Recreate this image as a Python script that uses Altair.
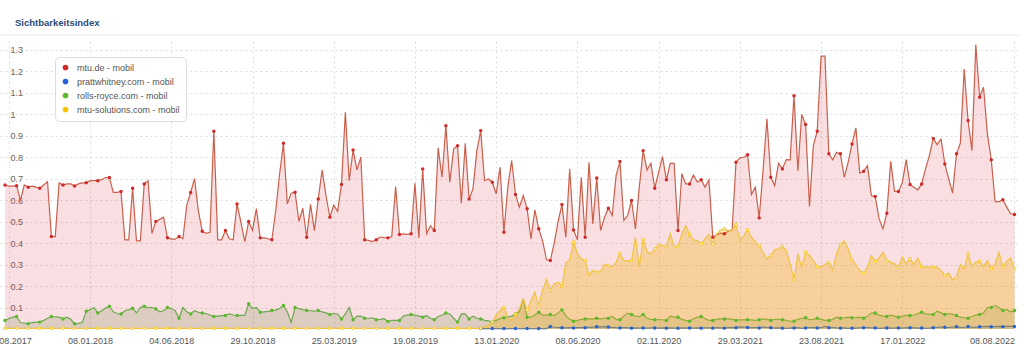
import altair as alt
import pandas as pd

# ---------------- data (weekly, 07.08.2017 .. 08.08.2022) ----------------
start_date = "2017-08-07"
n_weeks = 262

series_names = ["mtu.de - mobil", "prattwhitney.com - mobil",
                "rolls-royce.com - mobil", "mtu-solutions.com - mobil"]

mtu_de = [
    0.67, 0.665, 0.665, 0.667, 0.60, 0.67, 0.66, 0.665, 0.66, 0.655,
    0.67, 0.685, 0.43, 0.43, 0.68, 0.67, 0.675, 0.675, 0.665, 0.675,
    0.68, 0.68, 0.69, 0.69, 0.69, 0.695, 0.705, 0.705, 0.636, 0.636,
    0.64, 0.415, 0.415, 0.655, 0.41, 0.41, 0.675, 0.69, 0.445, 0.50,
    0.51, 0.52, 0.425, 0.418, 0.418, 0.43, 0.42, 0.575, 0.635, 0.70,
    0.55, 0.455, 0.445, 0.45, 0.92, 0.415, 0.415, 0.458, 0.42, 0.415,
    0.582, 0.497, 0.407, 0.50, 0.46, 0.56, 0.424, 0.424, 0.42, 0.415,
    0.55, 0.72, 0.864, 0.582, 0.632, 0.636, 0.50, 0.562, 0.427, 0.58,
    0.458, 0.605, 0.74, 0.62, 0.52, 0.577, 0.548, 0.672, 1.008, 0.69,
    0.833, 0.74, 0.80, 0.415, 0.412, 0.407, 0.415, 0.428, 0.425, 0.424,
    0.43, 0.663, 0.44, 0.443, 0.44, 0.443, 0.678, 0.424, 0.745, 0.443,
    0.48, 0.458, 0.843, 0.706, 0.946, 0.683, 0.838, 0.853, 0.585, 0.864,
    0.605, 0.652, 0.83, 0.923, 0.69, 0.698, 0.683, 0.629, 0.753, 0.45,
    0.66, 0.784, 0.626, 0.567, 0.621, 0.559, 0.419, 0.554, 0.466, 0.41,
    0.322, 0.319, 0.40, 0.50, 0.579, 0.427, 0.745, 0.461, 0.415, 0.706,
    0.427, 0.776, 0.489, 0.703, 0.458, 0.52, 0.562, 0.528, 0.714, 0.78,
    0.505, 0.528, 0.598, 0.466, 0.66, 0.83, 0.74, 0.771, 0.655, 0.73,
    0.802, 0.694, 0.771, 0.771, 0.458, 0.722, 0.675, 0.675, 0.717, 0.683,
    0.694, 0.66, 0.694, 0.427, 0.438, 0.446, 0.443, 0.455, 0.461, 0.776,
    0.796, 0.799, 0.811, 0.626, 0.66, 0.517, 0.737, 0.978, 0.706, 0.667,
    0.771, 0.745, 0.788, 0.787, 1.085, 0.737, 0.998, 0.951, 0.57, 0.853,
    0.92, 1.27, 1.27, 0.815, 0.787, 0.822, 0.815, 0.706, 0.776, 0.861,
    0.936, 0.725, 0.734, 0.76, 0.621, 0.616, 0.512, 0.466, 0.539, 0.78,
    0.64, 0.64, 0.68, 0.788, 0.672, 0.66, 0.647, 0.675, 0.745, 0.807,
    0.887, 0.858, 0.884, 0.768, 0.698, 0.632, 0.815, 0.864, 1.21, 0.97,
    0.83, 1.323, 1.078, 1.125, 0.908, 0.787, 0.593, 0.593, 0.601, 0.567,
    0.536, 0.533,
]

rolls_royce = [
    0.04, 0.048, 0.055, 0.058, 0.03, 0.028, 0.024, 0.03, 0.032, 0.032,
    0.04, 0.05, 0.058, 0.057, 0.055, 0.047, 0.055, 0.045, 0.024, 0.026,
    0.03, 0.083, 0.09, 0.10, 0.074, 0.085, 0.098, 0.106, 0.08, 0.072,
    0.07, 0.085, 0.09, 0.097, 0.075, 0.10, 0.106, 0.10, 0.10, 0.094,
    0.08, 0.085, 0.10, 0.095, 0.085, 0.05, 0.10, 0.08, 0.07, 0.085,
    0.078, 0.074, 0.072, 0.065, 0.058, 0.06, 0.062, 0.063, 0.07, 0.065,
    0.063, 0.063, 0.063, 0.117, 0.095, 0.10, 0.078, 0.08, 0.082, 0.086,
    0.088, 0.095, 0.109, 0.08, 0.03, 0.10, 0.095, 0.09, 0.086, 0.085,
    0.083, 0.086, 0.08, 0.075, 0.067, 0.072, 0.07, 0.047, 0.07, 0.10,
    0.043, 0.06, 0.06, 0.05, 0.05, 0.052, 0.043, 0.045, 0.048, 0.035,
    0.04, 0.04, 0.04, 0.06, 0.065, 0.067, 0.065, 0.06, 0.055, 0.062,
    0.05, 0.043, 0.058, 0.065, 0.074, 0.07, 0.05, 0.032, 0.07, 0.07,
    0.047, 0.06, 0.05, 0.047, 0.04, 0.038, 0.032, 0.04, 0.048, 0.052,
    0.055, 0.06, 0.07, 0.08, 0.14, 0.055, 0.055, 0.065, 0.078, 0.065,
    0.065, 0.067, 0.062, 0.075, 0.089, 0.062, 0.045, 0.036, 0.04, 0.045,
    0.047, 0.047, 0.047, 0.05, 0.047, 0.05, 0.05, 0.058, 0.045, 0.043,
    0.06, 0.074, 0.067, 0.06, 0.058, 0.067, 0.05, 0.045, 0.043, 0.043,
    0.043, 0.04, 0.06, 0.055, 0.055, 0.045, 0.04, 0.036, 0.048, 0.055,
    0.058, 0.048, 0.04, 0.04, 0.045, 0.047, 0.047, 0.047, 0.045, 0.04,
    0.042, 0.042, 0.043, 0.042, 0.04, 0.043, 0.047, 0.045, 0.04, 0.045,
    0.045, 0.043, 0.04, 0.036, 0.036, 0.045, 0.05, 0.052, 0.043, 0.045,
    0.05, 0.045, 0.04, 0.04, 0.045, 0.055, 0.05, 0.052, 0.055, 0.052,
    0.053, 0.055, 0.05, 0.06, 0.074, 0.074, 0.065, 0.06, 0.058, 0.065,
    0.06, 0.055, 0.06, 0.063, 0.063, 0.065, 0.072, 0.078, 0.07, 0.068,
    0.068, 0.083, 0.075, 0.068, 0.072, 0.068, 0.063, 0.055, 0.052, 0.05,
    0.058, 0.065, 0.068, 0.075, 0.10, 0.10, 0.109, 0.10, 0.086, 0.09,
    0.08, 0.086,
]

mtu_solutions = [
    0.003, 0.003, 0.003, 0.003, 0.003, 0.003, 0.003, 0.003, 0.003, 0.003,
    0.003, 0.003, 0.003, 0.003, 0.003, 0.003, 0.003, 0.003, 0.003, 0.003,
    0.003, 0.003, 0.003, 0.003, 0.003, 0.003, 0.003, 0.003, 0.003, 0.003,
    0.003, 0.003, 0.003, 0.003, 0.003, 0.003, 0.003, 0.003, 0.003, 0.003,
    0.003, 0.003, 0.003, 0.003, 0.003, 0.003, 0.003, 0.003, 0.003, 0.003,
    0.003, 0.003, 0.003, 0.003, 0.003, 0.003, 0.003, 0.003, 0.003, 0.003,
    0.003, 0.003, 0.003, 0.003, 0.003, 0.003, 0.003, 0.003, 0.003, 0.003,
    0.003, 0.003, 0.003, 0.003, 0.003, 0.003, 0.003, 0.003, 0.003, 0.003,
    0.003, 0.003, 0.003, 0.003, 0.003, 0.003, 0.003, 0.003, 0.003, 0.003,
    0.003, 0.003, 0.003, 0.003, 0.003, 0.003, 0.003, 0.003, 0.003, 0.003,
    0.003, 0.003, 0.003, 0.003, 0.003, 0.003, 0.003, 0.003, 0.003, 0.003,
    0.003, 0.003, 0.003, 0.003, 0.003, 0.003, 0.003, 0.003, 0.003, 0.003,
    0.003, 0.003, 0.003, 0.003,
    0.01, 0.02, 0.032, 0.063, 0.085, 0.10, 0.055, 0.04, 0.067, 0.094,
    0.14, 0.089, 0.13, 0.171, 0.109, 0.179, 0.229, 0.182, 0.21, 0.218,
    0.198, 0.31, 0.318, 0.405, 0.35, 0.326, 0.319, 0.249, 0.272, 0.264,
    0.27, 0.30, 0.295, 0.29, 0.31,
    0.353, 0.319, 0.316, 0.319, 0.427, 0.288, 0.415, 0.361, 0.349, 0.372,
    0.395, 0.388, 0.384, 0.443, 0.384, 0.384, 0.443, 0.481, 0.44, 0.415,
    0.411, 0.396, 0.419, 0.44, 0.396, 0.443, 0.461, 0.466, 0.458, 0.461,
    0.486, 0.411, 0.435, 0.461, 0.427, 0.404, 0.388, 0.357, 0.326, 0.342,
    0.368, 0.372, 0.384, 0.365, 0.303, 0.229, 0.349, 0.288, 0.357, 0.342,
    0.318, 0.29,
    0.29, 0.30, 0.311, 0.275, 0.35, 0.393, 0.408, 0.372, 0.322, 0.30,
    0.272, 0.26, 0.288, 0.342, 0.315, 0.332, 0.357, 0.319, 0.311, 0.303,
    0.288, 0.334, 0.303, 0.326, 0.30, 0.33, 0.29, 0.288, 0.288, 0.288,
    0.288, 0.272, 0.249, 0.26, 0.229, 0.241, 0.30, 0.28, 0.35, 0.29,
    0.311, 0.315, 0.29, 0.318, 0.28, 0.306, 0.357, 0.29, 0.315, 0.33,
    0.28,
]

# prattwhitney only has values from week 123 (Jan 2020) on
pratt_start_week = 123
prattwhitney = [
    0.002, 0.002, 0.002, 0.002, 0.002, 0.002, 0.002, 0.002, 0.002, 0.002,
    0.002, 0.002, 0.002, 0.002, 0.002, 0.002, 0.002, 0.002,
    0.012, 0.008, 0.006, 0.006, 0.005, 0.006, 0.005, 0.006, 0.007, 0.006,
    0.008, 0.009, 0.01, 0.01, 0.011, 0.009, 0.008, 0.006, 0.005, 0.006,
    0.005, 0.004, 0.005, 0.004, 0.005, 0.004, 0.005, 0.005, 0.004, 0.005,
    0.004, 0.005, 0.004, 0.003, 0.005, 0.004, 0.005, 0.004, 0.005, 0.004,
    0.005, 0.005, 0.004, 0.006, 0.005, 0.004, 0.006, 0.007, 0.006, 0.01,
    0.009, 0.007, 0.006, 0.007, 0.005, 0.01, 0.007, 0.006, 0.004, 0.005,
    0.004, 0.003, 0.004, 0.005, 0.006, 0.003, 0.005, 0.007, 0.006, 0.005,
    0.006, 0.012, 0.006, 0.007, 0.005, 0.004, 0.005, 0.003, 0.004, 0.004,
    0.005, 0.006, 0.007, 0.005, 0.005, 0.003, 0.004, 0.005, 0.004, 0.004,
    0.005, 0.004, 0.005, 0.006, 0.005, 0.004, 0.005, 0.003, 0.004, 0.006,
    0.007, 0.01, 0.008, 0.007, 0.009, 0.011, 0.008, 0.007, 0.012, 0.009,
    0.008, 0.01, 0.011, 0.012, 0.01, 0.011, 0.012, 0.011, 0.012, 0.012,
    0.012,
]

tick_dates = ["2017-08-14", "2018-01-08", "2018-06-04", "2018-10-29",
              "2019-03-25", "2019-08-19", "2020-01-13", "2020-06-08",
              "2020-11-02", "2021-03-29", "2021-08-23", "2022-01-17",
              "2022-08-08"]
y_ticks = [0.1, 0.2, 0.3, 0.4, 0.5, 0.6, 0.7, 0.8, 0.9, 1.0, 1.1, 1.2, 1.3]

legend_colors = ["#cf2a2a", "#2563d4", "#5cb82c", "#f5c300"]
line_colors = ["#c9604c", "#3b66c9", "#6aa84f", "#efc440"]
area_colors = ["#d9304a", "#3b66c9", "#6b8e3a", "#f5b000"]
area_opacity = [0.16, 0.15, 0.2, 0.3]

# ---------------- long table ----------------
dates = pd.date_range(start_date, periods=n_weeks, freq="7D")
rows = []
for name, vals, first in [(series_names[0], mtu_de, 0),
                          (series_names[1], prattwhitney, pratt_start_week),
                          (series_names[2], rolls_royce, 0),
                          (series_names[3], mtu_solutions, 0)]:
    for k, v in enumerate(vals):
        i = first + k
        rows.append({"date": dates[i], "series": name, "value": v,
                     "marker": i % 3 == 0})
df = pd.DataFrame(rows)


def dt(s):
    y, m, d = (int(p) for p in s.split("-"))
    return alt.DateTime(year=y, month=m, date=d)


x_scale = alt.Scale(domain=[dt("2017-07-29"), dt("2022-08-18")], nice=False)
y_scale = alt.Scale(domain=[0, 1.34], nice=False, zero=True)

x_enc = alt.X("date:T", scale=x_scale, title=None,
              axis=alt.Axis(values=[dt(s) for s in tick_dates], format="%d.%m.%Y",
                            labelFlush=8, ticks=False, domain=False, grid=True,
                            gridDash=[2, 3], gridColor="#dcdcdc", labelPadding=7,
                            labelFontSize=9, labelColor="#555",
                            labelFont="Liberation Sans"))
y_enc = alt.Y("value:Q", scale=y_scale, title=None,
              axis=alt.Axis(values=y_ticks, format="~g", orient="left",
                            labelAlign="left", labelPadding=-10, ticks=False,
                            tickSize=0, domain=False, grid=True, gridDash=[2, 3],
                            gridColor="#dcdcdc", labelFontSize=9, labelColor="#666",
                            labelFont="Liberation Sans"))

base = alt.Chart(df)
layers = []
for idx, name in enumerate(series_names):
    sub = base.transform_filter(alt.datum.series == name)
    layers.append(sub.mark_area(color=area_colors[idx], opacity=area_opacity[idx])
                  .encode(x=x_enc, y=y_enc))
    layers.append(sub.mark_line(color=line_colors[idx], strokeWidth=1.2)
                  .encode(x=x_enc, y=y_enc))

points = base.transform_filter(alt.datum.marker == True).mark_circle(size=12, opacity=1).encode(
    x=x_enc, y=y_enc,
    color=alt.Color("series:N",
                    scale=alt.Scale(domain=series_names, range=legend_colors),
                    legend=alt.Legend(title=None, orient="none", legendX=55, legendY=16,
                                      fillColor="white", strokeColor="#dddddd",
                                      cornerRadius=4, padding=6, symbolType="circle",
                                      symbolSize=32, symbolOpacity=1,
                                      labelFontSize=9, labelColor="#555",
                                      labelFont="Liberation Sans", rowPadding=4,
                                      labelOffset=7)),
)

yellow_inner = base.transform_filter(
    (alt.datum.marker == True) & (alt.datum.series == series_names[3])
).mark_circle(size=4, color="#fff6c8", opacity=1).encode(x=x_enc, y=y_enc)

title_df = pd.DataFrame({"t": ["Sichtbarkeitsindex"]})
title = alt.Chart(title_df).mark_text(
    align="left", baseline="middle", fontWeight="bold", fontSize=9.5,
    color="#2d4a78", font="Liberation Sans"
).encode(x=alt.value(15), y=alt.value(-18), text="t:N")
sep = alt.Chart(title_df).mark_rule(color="#ececec", strokeWidth=1).encode(
    x=alt.value(0), x2=alt.value(1020), y=alt.value(-6))

chart = alt.layer(*layers, points, yellow_inner, title, sep).properties(
    width=1020, height=288,
    autosize=alt.AutoSizeParams(type="none"),
    padding={"left": 0, "top": 41, "right": 4, "bottom": 24},
    background="white",
).configure_view(stroke=None)

chart.save("out.html", embed_options={"renderer": "svg", "actions": False})
